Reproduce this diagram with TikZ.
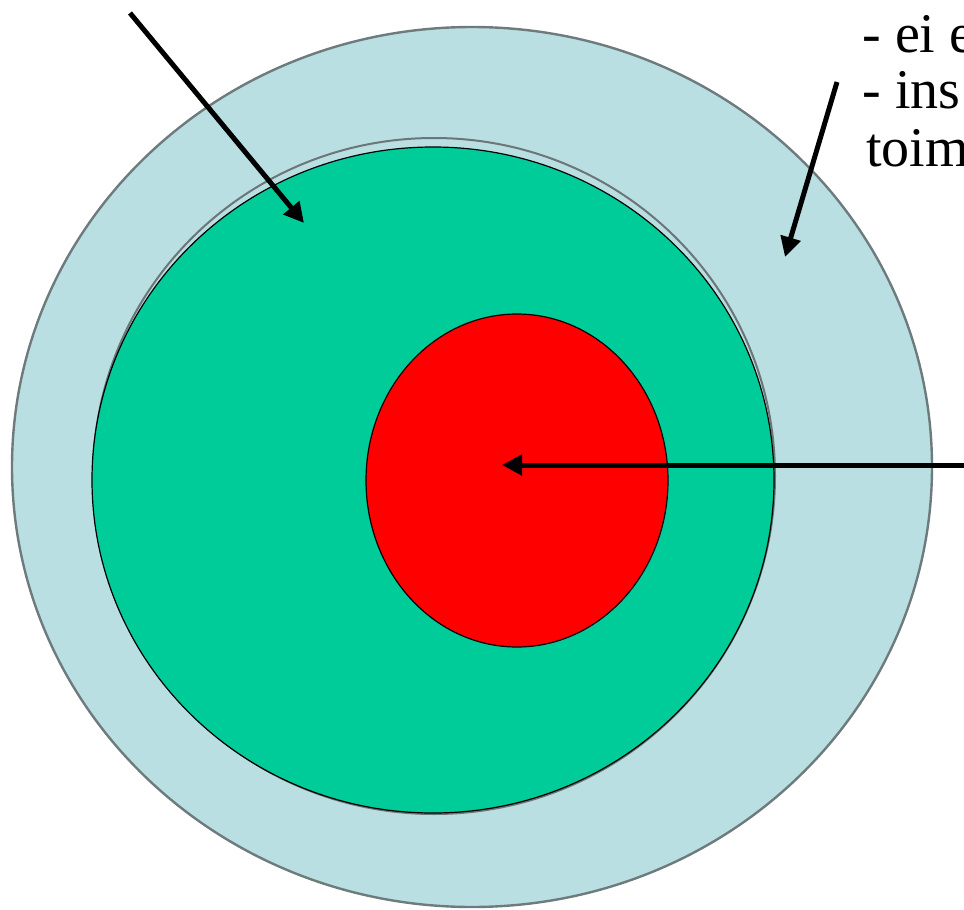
\documentclass[tikz,border=0pt]{standalone}
\usepackage{fontspec}
\setmainfont{Liberation Serif}
\usetikzlibrary{arrows.meta}
\definecolor{ringblue}{HTML}{BADFE3}
\definecolor{ringedge}{HTML}{6E7B7D}
\definecolor{coregreen}{HTML}{00CC99}
\definecolor{corered}{HTML}{FF0000}
\definecolor{shadowgrey}{HTML}{6A7678}

\tikzset{
  pointer/.style={black,line width=2.5pt,-{Triangle[length=10pt,width=10pt]}},
  note/.style={black,anchor=base west,inner sep=0pt,font=\fontsize{28}{32}\selectfont}
}

\begin{document}
\begin{tikzpicture}[x=0.5pt,y=-0.5pt]
  \useasboundingbox (0,0) rectangle (964,910);
  \clip (0,0) rectangle (964,910);

  % Outer light blue ring
  \fill[ringblue] (472,467) ellipse [x radius=460,y radius=440];
  \draw[ringedge,line width=1.2pt] (472,467) ellipse [x radius=460,y radius=440];

  % Grey rim just behind the green disc
  \draw[shadowgrey,line width=1pt] (434,476) ellipse [x radius=341,y radius=338];

  % Green middle disc
  \fill[coregreen] (433,480) ellipse [x radius=341,y radius=333];
  \draw[black,line width=0.6pt] (433,480) ellipse [x radius=341,y radius=333];

  % Red core
  \fill[corered] (517,480.5) ellipse [x radius=151,y radius=166.5];
  \draw[black,line width=0.6pt] (517,480.5) ellipse [x radius=151,y radius=166.5];

  % Arrow ends
  \coordinate (fromTL) at (130,13);
  \coordinate (toGreen) at (304,223);
  \coordinate (fromTR) at (837,82);
  \coordinate (toBlue) at (785,257);
  \coordinate (fromR) at (970,465);
  \coordinate (toRed) at (502,465);

  \draw[pointer] (fromTL) -- (toGreen);
  \draw[pointer] (fromTR) -- (toBlue);
  \draw[pointer] (fromR) -- (toRed);

  % Notes cut off at the right edge
  \node[note] (noteA) at (862,53) {- ei e};
  \node[note] (noteB) at (862,108) {- ins};
  \node[note] (noteC) at (866,166) {toim};

\end{tikzpicture}
\end{document}
